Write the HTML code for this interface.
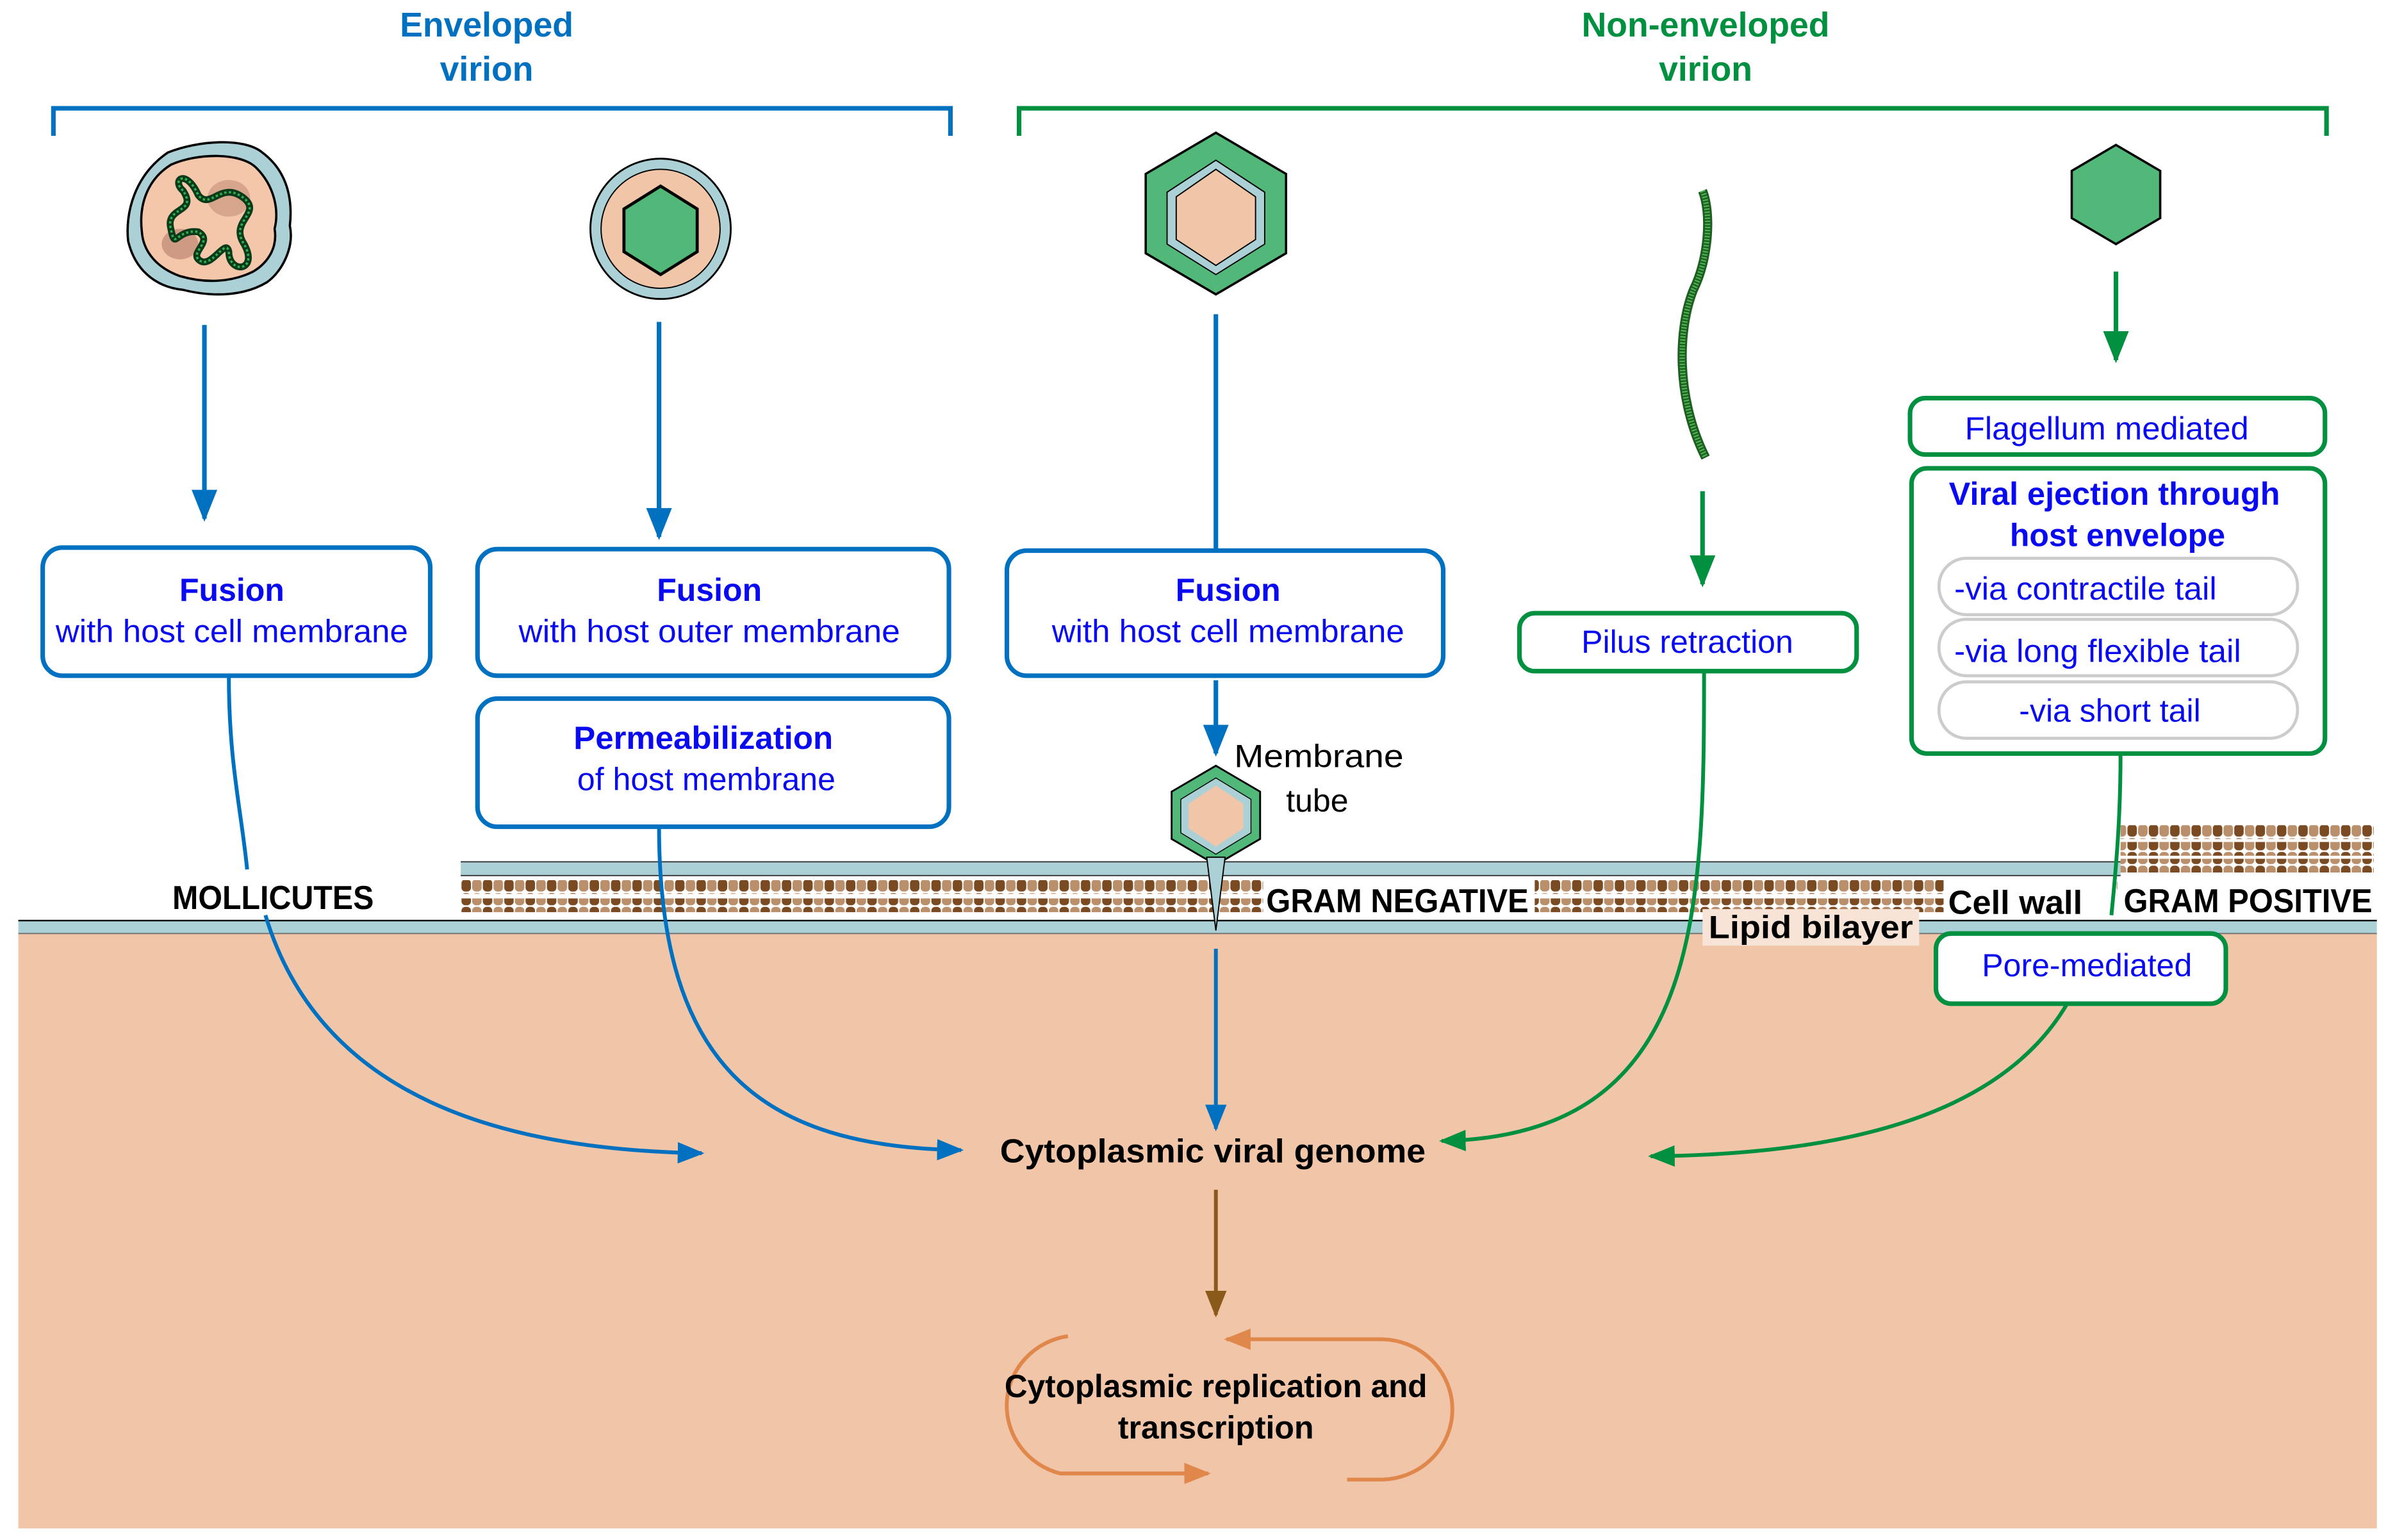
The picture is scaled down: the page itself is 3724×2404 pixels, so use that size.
<!DOCTYPE html>
<html><head><meta charset="utf-8"><style>
html,body{margin:0;padding:0;background:#fff;}
svg{display:block;}
text{font-family:"Liberation Sans",sans-serif;}
</style></head><body>
<svg width="3724" height="2404" viewBox="0 0 1564 1009.6" xmlns="http://www.w3.org/2000/svg">
<defs>
<pattern id="pg" x="302" y="0" width="14" height="9" patternUnits="userSpaceOnUse">
<rect x="0.5" y="0.5" width="6.2" height="8" rx="2.5" fill="#7a4a22"/>
<rect x="7.5" y="0.5" width="6.2" height="8" rx="2.5" fill="#b98f6c"/>
</pattern>
<marker id="ab" viewBox="0 0 10 10" refX="9" refY="5" markerWidth="7" markerHeight="7" orient="auto"><path d="M0,1 L10,5 L0,9 Z" fill="#0070c0"/></marker>
<marker id="ag" viewBox="0 0 10 10" refX="9" refY="5" markerWidth="7" markerHeight="7" orient="auto"><path d="M0,1 L10,5 L0,9 Z" fill="#009040"/></marker>
<marker id="abr" viewBox="0 0 10 10" refX="9" refY="5" markerWidth="7" markerHeight="7" orient="auto"><path d="M0,1 L10,5 L0,9 Z" fill="#8a5a1a"/></marker>
<marker id="ao" viewBox="0 0 10 10" refX="9" refY="5" markerWidth="7" markerHeight="7" orient="auto"><path d="M0,1 L10,5 L0,9 Z" fill="#e0874c"/></marker>
</defs>

<rect x="12" y="612" width="1546" height="390" fill="#f0c5a8"/>
<rect x="12" y="603" width="1546" height="9" fill="#abd0d6"/>
<line x1="12" y1="603.5" x2="1558" y2="603.5" stroke="#000" stroke-width="1"/>
<line x1="12" y1="612" x2="1558" y2="612" stroke="#777" stroke-width="0.8"/>

<rect x="302" y="565" width="1088" height="9" fill="#abd0d6"/>
<line x1="302" y1="565" x2="1390" y2="565" stroke="#333" stroke-width="0.8"/>
<line x1="302" y1="574" x2="1390" y2="574" stroke="#333" stroke-width="0.8"/>
<rect x="302" y="577" width="528" height="9" fill="url(#pg)"/>
<rect x="302" y="589" width="528" height="9" fill="url(#pg)"/>
<rect x="1006" y="577" width="270" height="9" fill="url(#pg)"/>
<rect x="1006" y="589" width="270" height="9" fill="url(#pg)"/>
<rect x="1390" y="541" width="166" height="9" fill="url(#pg)"/>
<rect x="1390" y="552" width="166" height="9" fill="url(#pg)"/>
<rect x="1390" y="563" width="166" height="9" fill="url(#pg)"/>
<rect x="1385" y="578" width="6" height="9" fill="url(#pg)"/>

<g font-weight="bold" font-size="22.5" text-anchor="middle">
<text x="319" y="24" fill="#0070c0">Enveloped</text>
<text x="319" y="53" fill="#0070c0">virion</text>
<text x="1118" y="24" fill="#009040">Non-enveloped</text>
<text x="1118" y="53" fill="#009040">virion</text>
</g>
<path d="M35,89 V71 H623 V89" fill="none" stroke="#0070c0" stroke-width="3"/>
<path d="M668,89 V71 H1525 V89" fill="none" stroke="#009040" stroke-width="3"/>

<!-- virus 1 -->
<path d="M110,100 C130,92 160,90 172,100 C188,112 192,130 190,148 C193,162 185,178 175,185 C160,194 140,195 120,190 C100,188 88,175 84,158 C82,140 88,115 110,100 Z" fill="#abd0d6" stroke="#000" stroke-width="1.5"/>
<path d="M112,108 C130,100 158,100 168,110 C180,122 183,138 180,150 C182,162 176,172 166,178 C152,185 135,186 118,181 C104,176 94,166 93,152 C91,135 96,118 112,108 Z" fill="#f4c7aa" stroke="#000" stroke-width="1.5"/>
<ellipse cx="118" cy="160" rx="12" ry="10" fill="#cf9a84"/>
<ellipse cx="150" cy="130" rx="14" ry="12" fill="#d7a58c"/>
<path d="M120,125 C112,118 122,110 130,128 C138,138 145,118 160,130 C172,140 150,145 160,160 C170,178 150,180 150,165 C148,155 138,178 130,170 C125,165 140,158 130,152 C115,150 115,165 112,150 C108,135 130,140 120,125 Z" fill="none" stroke="#0a3a1a" stroke-width="4.5"/>
<path d="M120,125 C112,118 122,110 130,128 C138,138 145,118 160,130 C172,140 150,145 160,160 C170,178 150,180 150,165 C148,155 138,178 130,170 C125,165 140,158 130,152 C115,150 115,165 112,150 C108,135 130,140 120,125 Z" fill="none" stroke="#2fb04f" stroke-width="1.5" stroke-dasharray="1.5 1.5"/>

<!-- virus 2 -->
<ellipse cx="433" cy="150" rx="46" ry="46" fill="#abd0d6" stroke="#000" stroke-width="1.2"/>
<ellipse cx="433" cy="150" rx="39" ry="39" fill="#f0c5a8" stroke="#000" stroke-width="0.8"/>
<polygon points="433,122 457,137 457,165 433,180 409,165 409,137" fill="#52b87a" stroke="#000" stroke-width="2"/>

<!-- virus 3 -->
<polygon points="797,87 843,114 843,166 797,193 751,166 751,114" fill="#52b87a" stroke="#000" stroke-width="1.5"/>
<polygon points="797,105 829,126 829,160 797,180 765,160 765,126" fill="#abd0d6" stroke="#000" stroke-width="0.8"/>
<polygon points="797,111 823,129 823,157 797,174 771,157 771,129" fill="#f0c5a8" stroke="#000" stroke-width="0.8"/>

<!-- virus 4 filament -->
<path d="M1116,125 C1122,140 1120,170 1110,190 C1100,215 1098,260 1118,300" fill="none" stroke="#1b5e20" stroke-width="6"/>
<path d="M1116,125 C1122,140 1120,170 1110,190 C1100,215 1098,260 1118,300" fill="none" stroke="#4caf50" stroke-width="3.5" stroke-dasharray="1 1"/>

<!-- virus 5 -->
<polygon points="1387,95 1416,112 1416,143 1387,160 1358,143 1358,112" fill="#52b87a" stroke="#000" stroke-width="1.5"/>

<line x1="134" y1="213" x2="134" y2="340" stroke="#0070c0" stroke-width="3" marker-end="url(#ab)"/>
<line x1="432" y1="211" x2="432" y2="352" stroke="#0070c0" stroke-width="3" marker-end="url(#ab)"/>
<line x1="797" y1="206" x2="797" y2="361" stroke="#0070c0" stroke-width="3"/>
<line x1="1116" y1="322" x2="1116" y2="383" stroke="#009040" stroke-width="3" marker-end="url(#ag)"/>
<line x1="1387" y1="178" x2="1387" y2="236" stroke="#009040" stroke-width="3" marker-end="url(#ag)"/>
<line x1="797" y1="446" x2="797" y2="494" stroke="#0070c0" stroke-width="3" marker-end="url(#ab)"/>

<g fill="#fff" stroke="#0070c0" stroke-width="3">
<rect x="28" y="359" width="254" height="84" rx="13"/>
<rect x="313" y="360" width="309" height="83" rx="13"/>
<rect x="313" y="458" width="309" height="84" rx="13"/>
<rect x="660" y="361" width="286" height="82" rx="13"/>
</g>
<g fill="#0a0af0" font-size="21" text-anchor="middle">
<text x="152" y="394" font-weight="bold">Fusion</text>
<text x="152" y="421" textLength="231" lengthAdjust="spacingAndGlyphs">with host cell membrane</text>
<text x="465" y="394" font-weight="bold">Fusion</text>
<text x="465" y="421" textLength="250" lengthAdjust="spacingAndGlyphs">with host outer membrane</text>
<text x="461" y="491" font-weight="bold" textLength="170" lengthAdjust="spacingAndGlyphs">Permeabilization</text>
<text x="463" y="518">of host membrane</text>
<text x="805" y="394" font-weight="bold">Fusion</text>
<text x="805" y="421" textLength="231" lengthAdjust="spacingAndGlyphs">with host cell membrane</text>
</g>

<g fill="#fff" stroke="#009040" stroke-width="3">
<rect x="996" y="402" width="221" height="38" rx="10"/>
<rect x="1252" y="261" width="272" height="37" rx="10"/>
<rect x="1253" y="307" width="271" height="187" rx="10"/>
</g>
<g fill="#fff" stroke="#cccccc" stroke-width="2">
<rect x="1271" y="366" width="235" height="37" rx="18"/>
<rect x="1271" y="406" width="235" height="37" rx="18"/>
<rect x="1271" y="447" width="235" height="37" rx="18"/>
</g>
<g fill="#0a0af0" font-size="21" text-anchor="middle">
<text x="1106" y="428">Pilus retraction</text>
<text x="1381" y="288" textLength="186" lengthAdjust="spacingAndGlyphs">Flagellum mediated</text>
<text x="1386" y="331" font-weight="bold" textLength="217" lengthAdjust="spacingAndGlyphs">Viral ejection through</text>
<text x="1388" y="358" font-weight="bold">host envelope</text>
<text x="1367" y="393" textLength="172" lengthAdjust="spacingAndGlyphs">-via contractile tail</text>
<text x="1375" y="434" textLength="188" lengthAdjust="spacingAndGlyphs">-via long flexible tail</text>
<text x="1383" y="473">-via short tail</text>
</g>

<polygon points="797,502 826,519 826,550 797,567 768,550 768,519" fill="#52b87a" stroke="#000" stroke-width="1.2"/>
<polygon points="797,510 820,524 820,546 797,560 774,546 774,524" fill="#abd0d6" stroke="#000" stroke-width="0.6"/>
<polygon points="797,515 815,527 815,543 797,555 779,543 779,527" fill="#f0c5a8"/>
<path d="M791,562 L797,610 L803,562 Z" fill="#abd0d6" stroke="#000" stroke-width="0.8"/>
<text x="809" y="503" font-size="21" textLength="111" lengthAdjust="spacingAndGlyphs">Membrane</text>
<text x="843" y="532" font-size="21">tube</text>

<rect x="105" y="572" width="148" height="28" fill="#fff"/>
<text x="113" y="596" font-size="22" font-weight="bold" textLength="132" lengthAdjust="spacingAndGlyphs">MOLLICUTES</text>
<rect x="828" y="576" width="176" height="26" fill="#fff"/>
<text x="830" y="598" font-size="22" font-weight="bold" textLength="172" lengthAdjust="spacingAndGlyphs">GRAM NEGATIVE</text>
<rect x="1274" y="576" width="110" height="26" fill="#fff"/>
<text x="1277" y="599" font-size="22" font-weight="bold" textLength="88" lengthAdjust="spacingAndGlyphs">Cell wall</text>
<rect x="1388" y="576" width="170" height="26" fill="#fff"/>
<text x="1392" y="598" font-size="22" font-weight="bold" textLength="163" lengthAdjust="spacingAndGlyphs">GRAM POSITIVE</text>
<rect x="1116" y="596" width="142" height="24" fill="#f8e4d6"/>
<text x="1120" y="615" font-size="21" font-weight="bold" textLength="134" lengthAdjust="spacingAndGlyphs">Lipid bilayer</text>

<rect x="1269" y="612" width="190" height="46" rx="10" fill="#fff" stroke="#009040" stroke-width="3"/>
<text x="1368" y="640" font-size="21" fill="#0a0af0" text-anchor="middle">Pore-mediated</text>

<path d="M150,443 C150,500 158,530 162,570 M174,600 C210,720 330,754 460,756" fill="none" stroke="#0070c0" stroke-width="2.5" marker-end="url(#ab)"/>
<path d="M432,542 C432,700 500,752 630,754" fill="none" stroke="#0070c0" stroke-width="2.5" marker-end="url(#ab)"/>
<line x1="797" y1="622" x2="797" y2="740" stroke="#0070c0" stroke-width="2.5" marker-end="url(#ab)"/>
<path d="M1117,440 C1117,600 1115,745 945,748" fill="none" stroke="#009040" stroke-width="2.5" marker-end="url(#ag)"/>
<path d="M1390,494 C1390,530 1388,560 1384,600" fill="none" stroke="#009040" stroke-width="2.5"/>
<path d="M1355,658 C1310,735 1200,757 1082,758" fill="none" stroke="#009040" stroke-width="2.5" marker-end="url(#ag)"/>

<text x="795" y="762" font-size="22" font-weight="bold" text-anchor="middle" textLength="279" lengthAdjust="spacingAndGlyphs">Cytoplasmic viral genome</text>
<line x1="797" y1="780" x2="797" y2="862" stroke="#8a5a1a" stroke-width="2.5" marker-end="url(#abr)"/>

<path d="M700,876 A47,46 0 0 0 695,966 L792,966" fill="none" stroke="#e0874c" stroke-width="2.5" marker-end="url(#ao)"/>
<path d="M883,970 L905,970 A47,46 0 0 0 905,878 L804,878" fill="none" stroke="#e0874c" stroke-width="2.5" marker-end="url(#ao)"/>
<text x="797" y="916" font-size="21" font-weight="bold" text-anchor="middle" textLength="277" lengthAdjust="spacingAndGlyphs">Cytoplasmic replication and</text>
<text x="797" y="943" font-size="21" font-weight="bold" text-anchor="middle">transcription</text>
</svg>
</body></html>
